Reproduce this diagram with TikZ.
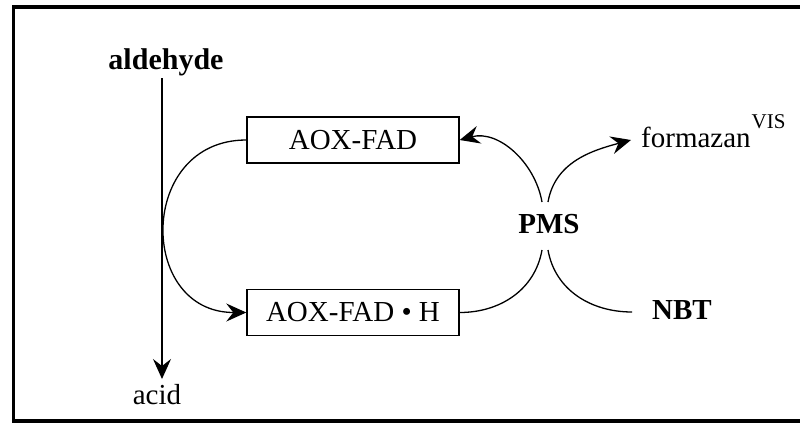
\documentclass[tikz,border=0pt]{standalone}
\usepackage{fontspec}
\setmainfont{Liberation Serif}
\usetikzlibrary{arrows.meta}
\begin{document}
\begin{tikzpicture}[x=1pt,y=-1pt,
  every node/.style={font=\fontsize{29}{34}\selectfont, inner sep=0pt},
  enzyme/.style={draw, line width=1.4pt, minimum width=212pt, minimum height=46pt},
  conn/.style={line width=1.3pt},
  arr/.style={conn, -{Stealth[length=20pt,width=18pt,inset=7pt]}},
  frame/.style={line width=3.5pt}]
\useasboundingbox (0,0) rectangle (800,424);

% open frame (left, top, bottom)
\draw[frame] (800,7) -- (13.5,7) -- (13.5,421) -- (800,421);

% substrate / product
\node[anchor=base, font=\fontsize{30}{34}\selectfont\bfseries] (ald) at (166,69) {aldehyde};
\node[anchor=base] (acid) at (157,404) {acid};
\coordinate (vtop) at (162,78);
\coordinate (vbot) at (162,379);
\draw[arr] (vtop) -- (vbot);

% enzyme states
\node[enzyme] (ox) at (353,140) {AOX-FAD};
\node[enzyme] (red) at (353,312.5) {AOX-FAD • H};

% electron carriers
\node[anchor=base, font=\fontsize{29}{34}\selectfont\bfseries] (pms) at (549,233) {PMS};
\node[anchor=base, font=\fontsize{29}{34}\selectfont\bfseries] (nbt) at (682,319) {NBT};
\node[anchor=base west] (form) at (641,147) {formazan\hspace{1pt}\raisebox{19pt}{\fontsize{21}{21}\selectfont VIS}};

\coordinate (pmsTL) at (542,202);
\coordinate (pmsTR) at (548,202);
\coordinate (pmsBL) at (542,250);
\coordinate (pmsBR) at (548,250);
\coordinate (formIn) at (631,140);
\coordinate (nbtIn) at (632,312);

% aldehyde oxidation reduces the enzyme
\draw[arr] (ox.west) to[out=180,in=180,looseness=1.62] (red.west);

% PMS reoxidises the enzyme and reduces NBT
\draw[conn] (red.east) to[out=0,in=-100] (pmsBL);
\draw[arr] (pmsTL) to[out=100,in=15] (ox.east);
\draw[conn] (pmsBR) to[out=-80,in=180] (nbtIn);
\draw[arr] (pmsTR) to[out=80,in=195] (formIn);
\end{tikzpicture}
\end{document}
